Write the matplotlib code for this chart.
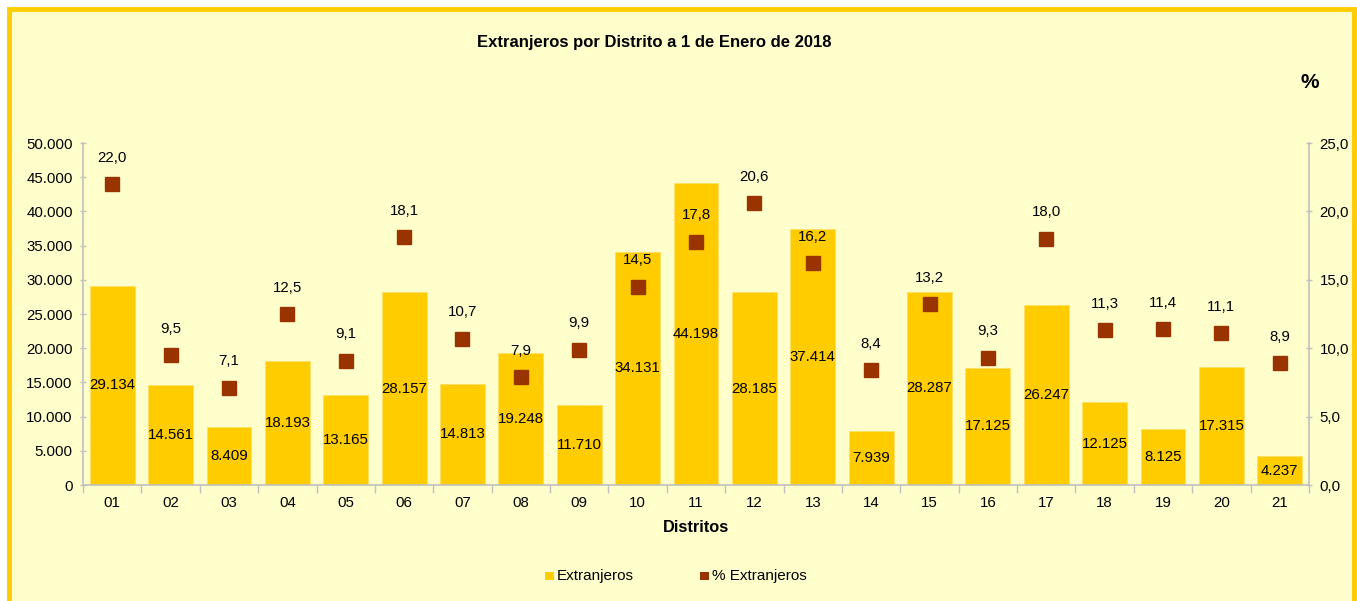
import matplotlib
matplotlib.use("Agg")
import matplotlib.pyplot as plt
from matplotlib.patches import Rectangle
from matplotlib.ticker import FuncFormatter, MultipleLocator
import numpy as np

distritos = ["01", "02", "03", "04", "05", "06", "07", "08", "09", "10", "11",
             "12", "13", "14", "15", "16", "17", "18", "19", "20", "21"]
extranjeros = [29134, 14561, 8409, 18193, 13165, 28157, 14813, 19248, 11710, 34131, 44198,
               28185, 37414, 7939, 28287, 17125, 26247, 12125, 8125, 17315, 4237]
pct_extranjeros = [22.0, 9.5, 7.1, 12.5, 9.1, 18.1, 10.7, 7.9, 9.9, 14.5, 17.8,
                   20.6, 16.2, 8.4, 13.2, 9.3, 18.0, 11.3, 11.4, 11.1, 8.9]

BAR = "#FFCC00"
MARK = "#993300"
BG = "#FFFFCC"
AXC = "#C0C0C0"
FS = 10.8

plt.rcParams["font.family"] = ["Liberation Sans", "DejaVu Sans"]


def miles(v, _pos=None):
    return f"{int(round(v)):,}".replace(",", ".")


def coma(v, _pos=None):
    return f"{v:.1f}".replace(".", ",")


fig = plt.figure(figsize=(13.57, 6.01), dpi=100, facecolor="white")
fig.patches.append(Rectangle((0.0066, -0.02), 0.9912, 1.005, transform=fig.transFigure,
                             facecolor=BG, edgecolor=BAR, linewidth=3.5, zorder=-10))

ax = fig.add_axes([0.0612, 0.193, 0.9034, 0.569])
ax.patch.set_alpha(0)
x = np.arange(len(distritos))
ax.bar(x, extranjeros, width=0.77, color=BAR, edgecolor="#FFE066", linewidth=0.6, zorder=2)
for xi, v in zip(x, extranjeros):
    ax.text(xi, v / 2, miles(v), ha="center", va="center", fontsize=FS, color="black", zorder=4)

ax.set_xlim(-0.5, len(distritos) - 0.5)
ax.set_ylim(0, 50000)
ax.yaxis.set_major_locator(MultipleLocator(5000))
ax.yaxis.set_major_formatter(FuncFormatter(miles))
ax.set_xticks(x)
ax.set_xticklabels(distritos)
ax.set_xticks(np.arange(-0.5, len(distritos)), minor=True)
ax.tick_params(axis="x", which="major", length=0, pad=8, labelsize=FS)
ax.tick_params(axis="x", which="minor", length=6, color=AXC, width=1)
ax.tick_params(axis="y", length=5, color=AXC, width=1, direction="inout", labelsize=FS, pad=5)
for s in ["top", "right"]:
    ax.spines[s].set_visible(False)
for s in ["left", "bottom"]:
    ax.spines[s].set_color(AXC)
    ax.spines[s].set_linewidth(1.2)
ax.set_xlabel("Distritos", fontsize=11.8, fontweight="bold", labelpad=7)

ax2 = ax.twinx()
ax2.set_ylim(0, 25)
ax2.yaxis.set_major_locator(MultipleLocator(5))
ax2.yaxis.set_major_formatter(FuncFormatter(coma))
ax2.plot(x, pct_extranjeros, linestyle="none", marker="s", markersize=10.5, color=MARK, zorder=5)
for xi, p in zip(x, pct_extranjeros):
    ax2.annotate(coma(p), (xi, p), xytext=(0, 14), textcoords="offset points",
                 ha="center", va="bottom", fontsize=FS, color="black")
ax2.tick_params(axis="y", length=5, color=AXC, width=1, direction="inout", labelsize=FS, pad=5)
for s in ["top", "left", "bottom"]:
    ax2.spines[s].set_visible(False)
ax2.spines["right"].set_color(AXC)
ax2.spines["right"].set_linewidth(1.2)

fig.text(0.482, 0.93, "Extranjeros por Distrito a 1 de Enero de 2018", ha="center", va="center",
         fontsize=12, fontweight="bold")
fig.text(0.965, 0.863, "%", ha="center", va="center", fontsize=15, fontweight="bold")

# leyenda
fig.patches.append(Rectangle((0.4017, 0.0349), 0.0062, 0.0135, transform=fig.transFigure,
                             facecolor=BAR, edgecolor="none"))
fig.text(0.4105, 0.042, "Extranjeros", ha="left", va="center", fontsize=11)
fig.patches.append(Rectangle((0.5160, 0.0349), 0.0062, 0.0135, transform=fig.transFigure,
                             facecolor=MARK, edgecolor="none"))
fig.text(0.5245, 0.042, "% Extranjeros", ha="left", va="center", fontsize=11)

fig.savefig("out.png", dpi=100, facecolor="white")
